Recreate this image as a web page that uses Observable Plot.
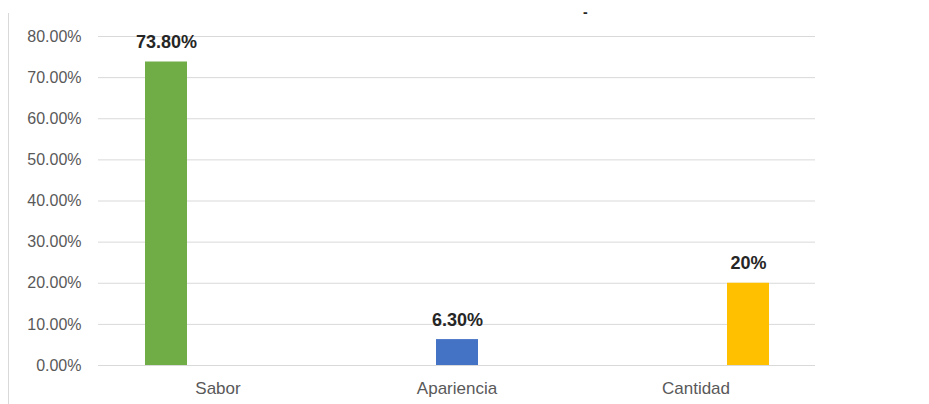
<!DOCTYPE html>
<html>
<head>
<meta charset="utf-8">
<script src="https://cdn.jsdelivr.net/npm/d3@7"></script>
<script src="https://cdn.jsdelivr.net/npm/@observablehq/plot@0.6"></script>
<style>
  html, body { margin: 0; padding: 0; background: #fff; }
  #wrap { position: relative; width: 929px; height: 404px; overflow: hidden; font-family: "Liberation Sans", Arial, sans-serif; }
  #border { position: absolute; left: 8px; top: 13px; width: 0; height: 400px; border-left: 1px solid #d9d9d9; }
  #title { position: absolute; left: 583px; top: 4px; font: bold 14px "Liberation Sans", Arial, sans-serif; color: #262626; line-height: 16px; }
  #chart { position: absolute; left: 0; top: 0; }
</style>
</head>
<body>
<div id="wrap">
  <div id="border"></div>
  <div id="title">-</div>
  <div id="chart"></div>
</div>
<script>
const categories = ["Sabor", "Apariencia", "Cantidad"];
const seriesIndex = [0, 1, 2];
const values = [0.738, 0.063, 0.20];
const valueLabels = ["73.80%", "6.30%", "20%"];
const colors = ["#70AD47", "#4472C4", "#FFC000"];
const yTicks = [0, 0.1, 0.2, 0.3, 0.4, 0.5, 0.6, 0.7, 0.8];

const data = categories.map((c, i) => ({
  category: c,
  series: seriesIndex[i],
  value: values[i],
  label: valueLabels[i]
}));

const chart = Plot.plot({
  width: 929,
  height: 404,
  marginLeft: 97,
  marginRight: 114,
  marginTop: 36,
  marginBottom: 39,
  style: { fontFamily: "'Liberation Sans', Arial, sans-serif", background: "transparent" },
  fx: { domain: categories, padding: 0, label: null },
  x: { domain: seriesIndex, paddingInner: 0.2, paddingOuter: 0.87, axis: null },
  y: { domain: [0, 0.8] },
  color: { domain: seriesIndex, range: colors },
  marks: [
    Plot.gridY(yTicks, { stroke: "#d9d9d9", strokeOpacity: 1, strokeWidth: 1 }),
    Plot.axisY(yTicks, { tickSize: 0, tickPadding: 17, tickFormat: d3.format(".2%"), label: null, color: "#595959", fontSize: 16 }),
    Plot.axisFx({ anchor: "bottom", tickSize: 0, tickPadding: 16, label: null, color: "#595959", fontSize: 17 }),
    Plot.barY(data, { fx: "category", x: "series", y: "value", fill: "series" }),
    Plot.text(data, { fx: "category", x: "series", y: "value", text: "label", dy: -14, lineAnchor: "bottom", fontWeight: "bold", fontSize: 18, fill: "#262626" })
  ]
});
document.getElementById("chart").appendChild(chart);
</script>
</body>
</html>
